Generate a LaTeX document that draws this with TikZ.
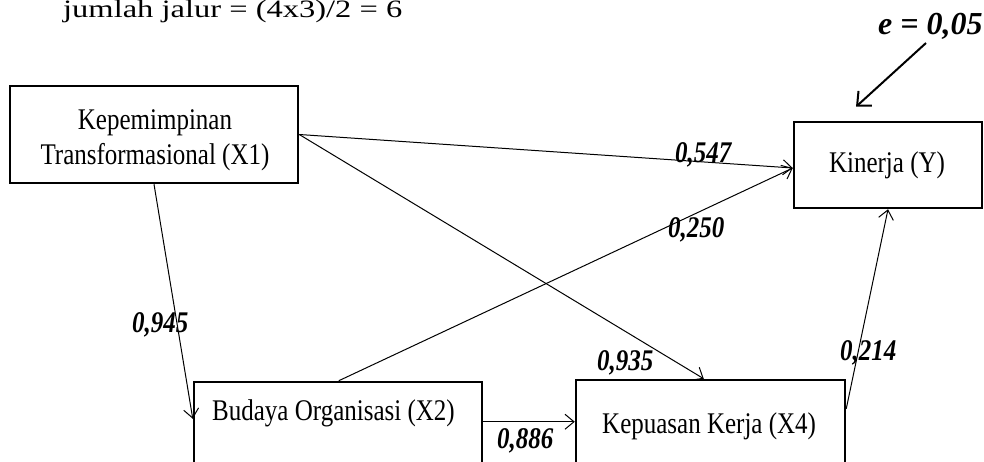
\documentclass[tikz,border=0pt]{standalone}
\usepackage{fontspec}
\usepackage{graphicx}
\setmainfont{Liberation Serif}
\usetikzlibrary{arrows.meta,calc}
\newcommand\vstr[1]{\scalebox{1}[1.2]{#1}}
\tikzset{
  boxnode/.style={draw=black, line width=2.5pt, fill=white, inner sep=0pt, rectangle},
  boxtext/.style={font=\fontsize{25}{35}\selectfont, inner sep=0pt},
  coef/.style={font=\fontsize{25}{30}\selectfont\bfseries\itshape, inner sep=0pt, anchor=base west},
  conn/.style={line width=1pt, -{Straight Barb[length=9pt,width=15pt,line width=1pt]}},
}
\begin{document}
\begin{tikzpicture}[x=1pt,y=-1pt]
\useasboundingbox (0,0) rectangle (984,462);
\clip (0,0) rectangle (984,462);
% boxes
\node[boxnode, minimum width=288pt, minimum height=97pt] (X1) at (154,134.5) {};
\node[boxnode, minimum width=188pt, minimum height=86pt] (Y) at (888,165) {};
\node[boxnode, minimum width=288pt, minimum height=118pt] (X2) at (338,441) {};
\node[boxnode, minimum width=269pt, minimum height=120pt] (X4) at (710.5,440) {};
% box texts
\node[boxtext, align=center] (tX1) at (155,140) {\vstr{Kepemimpinan}\\\vstr{Transformasional (X1)}};
\node[boxtext, anchor=base] (tY) at (887,173) {\vstr{Kinerja (Y)}};
\node[boxtext, anchor=base west] (tX2) at (212,420) {\vstr{Budaya Organisasi (X2)}};
\node[boxtext, anchor=base west] (tX4) at (602,433) {\vstr{Kepuasan Kerja (X4)}};
% connection points
\coordinate (yin) at ($(Y.west)+(0,3)$);
\coordinate (x2in) at ($(X2.north west)+(0,38)$);
\coordinate (x2out) at ($(X2.north east)+(0,41)$);
\coordinate (x4in) at ($(X4.north west)+(0,43)$);
\coordinate (x4out) at ($(X4.north east)+(0,30)$);
\coordinate (x4top) at ($(X4.north west)+(129,0)$);
\coordinate (x2top) at ($(X2.north west)+(146,0)$);
% connectors
\draw[conn] (X1.east) -- (yin);
\draw[conn] (X1.east) -- (x4top);
\draw[conn] (X1.south) -- (x2in);
\draw[conn] (x2top) -- (yin);
\draw[conn] (x2out) -- (x4in);
\draw[conn] (x4out) -- (Y.south);
% error arrow
\coordinate (estart) at (926,43);
\draw[line width=2pt, -{Straight Barb[length=11pt,width=20pt,line width=2pt]}] (estart) -- ($(Y.north)+(-32,-14)$);
% coefficients
\node[coef] (c547) at (675,163) {\vstr{0,547}};
\node[coef] (c250) at (668,237) {\vstr{0,250}};
\node[coef] (c945) at (132,332) {\vstr{0,945}};
\node[coef] (c935) at (597,370) {\vstr{0,935}};
\node[coef] (c886) at (497,448) {\vstr{0,886}};
\node[coef] (c214) at (840,360) {\vstr{0,214}};
\node[font=\fontsize{32}{36}\selectfont\bfseries\itshape, inner sep=0pt, anchor=base west] (e) at (878,35) {e = 0,05};
\node[font=\fontsize{25}{30}\selectfont, inner sep=0pt, anchor=base west] (jml) at (63,18) {\scalebox{1.3}[1]{jumlah jalur = (4x3)/2 = 6}};
\end{tikzpicture}
\end{document}
